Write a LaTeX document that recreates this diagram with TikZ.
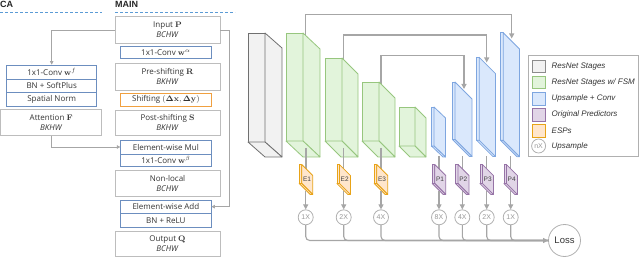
\documentclass[tikz,border=0pt]{standalone}
\usepackage[no-math]{fontspec}
\newfontfamily\osans{Open Sans}
\newfontfamily\lsans{Liberation Sans}
\usetikzlibrary{arrows.meta}
\definecolor{boxgray}{HTML}{BDBDBD}
\definecolor{bline}{HTML}{6C8EBF}
\definecolor{oline}{HTML}{F0A040}
\definecolor{conngray}{HTML}{A6A6A6}
\definecolor{dashblue}{HTML}{5B9BD5}
\definecolor{fgray}{HTML}{F2F2F2}
\definecolor{dgray}{HTML}{707070}
\definecolor{fgreen}{HTML}{E2F4DB}
\definecolor{dgreen}{HTML}{97C67E}
\definecolor{fblue}{HTML}{DAE8FC}
\definecolor{dblue}{HTML}{7EA6E0}
\definecolor{forange}{HTML}{FFE6CC}
\definecolor{dorange}{HTML}{E8A317}
\definecolor{fpurple}{HTML}{E1D5E7}
\definecolor{dpurple}{HTML}{9673A6}
\definecolor{circgray}{HTML}{B0B0B0}
\newcommand{\netblock}[8]{%
  \filldraw[fill=#7,draw=#8,line width=0.8pt,line join=round] (#1,#2) rectangle ++(#3,#4);
  \filldraw[fill=#7,draw=#8,line width=0.8pt,line join=round] (#1+#3,#2) -- ++(#5,#6) -- ++(0,#4) -- ++(-#5,-#6) -- cycle;
  \filldraw[fill=#7,draw=#8,line width=0.8pt,line join=round] (#1,#2+#4) -- ++(#3,0) -- ++(#5,#6) -- ++(-#3,0) -- cycle;
}
\begin{document}
\begin{tikzpicture}[x=1pt,y=-1pt,
  txt/.style={font=\osans\fontsize{8}{10}\selectfont, text=black!80, inner sep=0pt, align=center},
  mainbox/.style={txt, draw=boxgray, line width=0.7pt, minimum width=105pt, minimum height=26.7pt},
  bluebox/.style={txt, draw=bline, line width=0.7pt, minimum width=90.3pt},
  orangebox/.style={txt, draw=oline, line width=0.7pt, minimum width=90.3pt},
  lconn/.style={draw=conngray, line width=0.7pt, -{Triangle[length=3.5pt,width=3.5pt]}},
  conn/.style={draw=conngray, line width=1.1pt},
  aconn/.style={conn, -{Triangle[length=5pt,width=5pt]}},
  dashline/.style={draw=dashblue, line width=0.8pt, dash pattern=on 3pt off 2pt},
  hdr/.style={font=\lsans\bfseries\fontsize{9}{10}\selectfont, text=black!85, inner sep=0pt, anchor=west},
  upc/.style={circle, draw=circgray, line width=0.8pt, minimum size=15pt, inner sep=0pt, fill=white,
    font=\lsans\fontsize{7}{8}\selectfont, text=black!40},
  lbl/.style={font=\lsans\fontsize{6.5}{7}\selectfont, text=black!75, inner sep=0pt},
  sw/.style={minimum width=12.3pt, minimum height=12.7pt, line width=0.8pt, inner sep=0pt},
  legtxt/.style={font=\lsans\itshape\fontsize{8}{9}\selectfont, text=black!80, inner sep=0pt, anchor=west}
]
\useasboundingbox (0,0) rectangle (640,259);

% ---------- headers ----------
\node[hdr] (hca) at (0,4.5) {CA};
\node[hdr] (hmain) at (115,4.5) {MAIN};
\coordinate (dl1a) at (0,12.3); \coordinate (dl1b) at (102,12.3);
\coordinate (dl2a) at (115,12.5); \coordinate (dl2b) at (235,12.5);
\draw[dashline] (dl1a) -- (dl1b);
\draw[dashline] (dl2a) -- (dl2b);

% ---------- MAIN column ----------
\node[mainbox] (inp) at (167.5,30) {Input $\mathbf{P}$\\\textit{BCHW}};
\node[bluebox, minimum height=11.6pt] (cva) at (165.85,52.5) {1x1-Conv $\mathbf{w}^{\alpha}$};
\node[mainbox] (pre) at (167.5,76.7) {Pre-shifting $\mathbf{R}$\\\textit{BKHW}};
\node[orangebox, minimum height=12.7pt] (shf) at (165.85,99.7) {Shifting $\mathbf{(\Delta x,\Delta y)}$};
\node[mainbox, minimum height=25pt] (post) at (167.5,122.5) {Post-shifting $\mathbf{S}$\\\textit{BKHW}};
\node[bluebox, minimum height=14pt] (mul) at (165.85,147) {Element-wise Mul};
\node[bluebox, minimum height=12.7pt] (cvb) at (165.85,160.35) {1x1-Conv $\mathbf{w}^{\beta}$};
\node[mainbox] (nl) at (167.5,183.3) {Non-local\\\textit{BCHW}};
\node[bluebox, minimum height=13.3pt] (add) at (165.85,206.65) {Element-wise Add};
\node[bluebox, minimum height=14.3pt] (bnr) at (165.85,220.5) {BN + ReLU};
\node[mainbox, minimum height=25.7pt] (out) at (167.5,243.85) {Output $\mathbf{Q}$\\\textit{BCHW}};

% ---------- CA column ----------
\node[bluebox, minimum width=90pt, minimum height=14pt] (ca1) at (51.7,72) {1x1-Conv $\mathbf{w}^{f}$};
\node[bluebox, minimum width=90pt, minimum height=13.7pt] (ca2) at (51.7,85.85) {BN + SoftPlus};
\node[bluebox, minimum width=90pt, minimum height=14pt] (ca3) at (51.7,99.7) {Spatial Norm};
\node[mainbox, minimum width=101pt, minimum height=26.2pt] (att) at (51.2,122.4) {Attention $\mathbf{F}$\\\textit{BKHW}};

\draw[lconn] (inp.west) -| (ca1.north);
\draw[lconn] (inp.east) -- ++(9,0) |- (add.east);
\draw[lconn] (att.south) |- (mul.west);

% ---------- network: skip connections ----------
\coordinate (g1t) at (305.7,36); \coordinate (b4t) at (511.7,38.5);
\coordinate (g2t) at (343.7,60); \coordinate (b3t) at (486.7,62.5);
\coordinate (g3t) at (381,84.5);  \coordinate (b2t) at (464,89);
\draw[aconn] (g1t) -- (305.7,14.3) -| (b4t);
\draw[aconn] (g2t) -- (343.7,35) -| (b3t);
\draw[aconn] (g3t) -- (381,55.7) -| (b2t);

% ---------- network: blocks ----------
\netblock{248}{33}{17}{109}{17}{15}{fgray}{dgray}
\netblock{286}{33}{17}{108}{17}{16}{fgreen}{dgreen}
\netblock{325}{58}{17}{83}{16}{16}{fgreen}{dgreen}
\netblock{362}{82}{17}{59}{16}{16}{fgreen}{dgreen}
\netblock{399}{107}{16}{39}{11}{11}{fgreen}{dgreen}
\netblock{431.5}{107}{2.5}{39}{11.5}{11}{fblue}{dblue}
\netblock{452.5}{82}{2.5}{57.5}{17}{17}{fblue}{dblue}
\netblock{476.7}{57.3}{2.5}{83}{16.3}{16.3}{fblue}{dblue}
\netblock{500.7}{32.7}{2.5}{107.7}{16.3}{16.3}{fblue}{dblue}

% stems from blocks to heads
\coordinate (g1b) at (306,148);   \coordinate (e1t) at (306,170);
\coordinate (g2b) at (343.7,148); \coordinate (e2t) at (343.7,170);
\coordinate (g3b) at (381,148);   \coordinate (e3t) at (381,170);
\coordinate (b1b) at (439,156.5); \coordinate (p1t) at (439,170);
\coordinate (b2b) at (462.3,156.5); \coordinate (p2t) at (462.3,170);
\coordinate (b3b) at (486.7,156.5); \coordinate (p3t) at (486.7,170);
\coordinate (b4b) at (510.7,156.5); \coordinate (p4t) at (510.7,170);
\foreach \a/\b in {g1b/e1t,g2b/e2t,g3b/e3t,b1b/p1t,b2b/p2t,b3b/p3t,b4b/p4t}
  \draw[conn] (\a) -- (\b);

% heads
\netblock{299.2}{164.5}{2.5}{19}{11}{11}{forange}{dorange}
\netblock{336.9}{164.5}{2.5}{19}{11}{11}{forange}{dorange}
\netblock{374.2}{164.5}{2.5}{19}{11}{11}{forange}{dorange}
\netblock{432.2}{164.5}{2.5}{19}{11}{11}{fpurple}{dpurple}
\netblock{455.5}{164.5}{2.5}{19}{11}{11}{fpurple}{dpurple}
\netblock{479.9}{164.5}{2.5}{19}{11}{11}{fpurple}{dpurple}
\netblock{503.9}{164.5}{2.5}{19}{11}{11}{fpurple}{dpurple}
\node[lbl] (e1) at (307,179.5) {E1};
\node[lbl] (e2) at (344.7,179.5) {E2};
\node[lbl] (e3) at (382,179.5) {E3};
\node[lbl] (p1) at (440,179.5) {P1};
\node[lbl] (p2) at (463.3,179.5) {P2};
\node[lbl] (p3) at (487.7,179.5) {P3};
\node[lbl] (p4) at (511.7,179.5) {P4};

% upsample circles
\node[upc] (u1) at (305.7,217.3) {1X};
\node[upc] (u2) at (343.7,217.3) {2X};
\node[upc] (u3) at (381,217.3) {4X};
\node[upc] (u4) at (439,217.3) {8X};
\node[upc] (u5) at (462.3,217.3) {4X};
\node[upc] (u6) at (486.7,217.3) {2X};
\node[upc] (u7) at (510.7,217.3) {1X};
\coordinate (e1b) at (305.7,190.5);
\coordinate (e2b) at (343.7,190.5);
\coordinate (e3b) at (381,190.5);
\coordinate (p1b) at (439,190.5);
\coordinate (p2b) at (462.3,190.5);
\coordinate (p3b) at (486.7,190.5);
\coordinate (p4b) at (510.7,190.5);
\foreach \a/\b in {e1b/u1,e2b/u2,e3b/u3,p1b/u4,p2b/u5,p3b/u6,p4b/u7}
  \draw[aconn] (\a) -- (\b.north);

% loss
\node[circle, draw=circgray, line width=0.8pt, minimum size=32pt, inner sep=0pt,
  font=\lsans\fontsize{9.5}{10}\selectfont, text=black!80] (loss) at (564.5,240.5) {Loss};
\foreach \u in {u2,u3,u4,u5,u6,u7}
  \draw[conn, rounded corners=4pt] (\u.south) |- (loss.west);
\draw[aconn, rounded corners=4pt] (u1.south) |- (loss.west);

% ---------- legend ----------
\node[draw=circgray, line width=0.9pt, minimum width=110pt, minimum height=100.3pt, inner sep=0pt] (leg) at (583.3,105.85) {};
\node[sw, fill=fgray, draw=black!45] (s1) at (538.85,66.3) {};
\node[sw, fill=fgreen, draw=dgreen] (s2) at (538.85,82.5) {};
\node[sw, fill=fblue, draw=dblue] (s3) at (538.85,98.7) {};
\node[sw, fill=fpurple, draw=dpurple] (s4) at (538.85,114.9) {};
\node[sw, fill=forange, draw=dorange] (s5) at (538.85,131.1) {};
\node[upc, minimum size=14pt] (s6) at (538.6,146) {nX};
\node[legtxt] (t1) at (551.5,66.5) {ResNet Stages};
\node[legtxt] (t2) at (551.5,82.3) {ResNet Stages w/ FSM};
\node[legtxt] (t3) at (551.5,98.5) {Upsample + Conv};
\node[legtxt] (t4) at (551.5,114.9) {Original Predictors};
\node[legtxt] (t5) at (551.5,131.1) {ESPs};
\node[legtxt] (t6) at (551.5,146) {Upsample};
\end{tikzpicture}
\end{document}
